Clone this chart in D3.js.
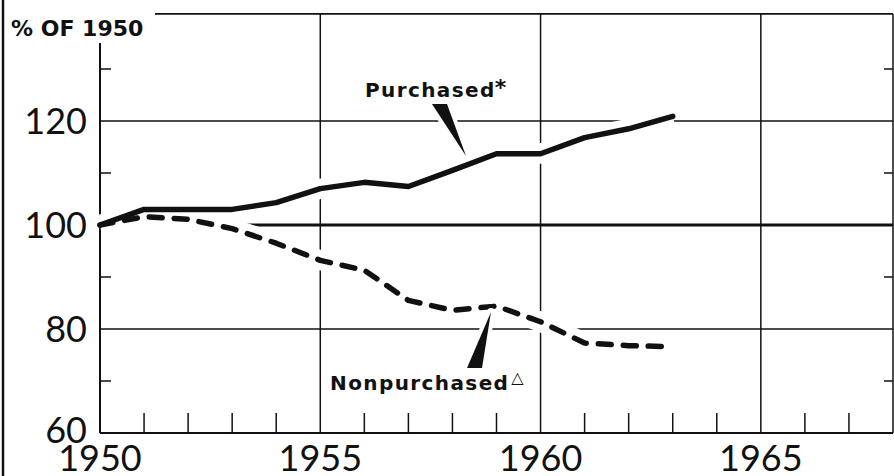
<!DOCTYPE html>
<html lang="en">
<head>
  <meta charset="UTF-8">
  <title>Purchased vs Nonpurchased, % of 1950</title>
  <script src="https://d3js.org/d3.v7.min.js"></script>
  <style>
    body { margin: 0; background: #fff; overflow: hidden; }
    svg { display: block; }
    text { font-family: "Lato", "DejaVu Sans", sans-serif; fill: #111; }
    .bold { font-family: "DejaVu Sans", sans-serif; font-weight: bold; }
  </style>
</head>
<body>
  <script>
    // Values (% of 1950)
    const years = [1950, 1951, 1952, 1953, 1954, 1955, 1956, 1957, 1958, 1959, 1960, 1961, 1962, 1963];
    const purchased = [100, 103, 103, 103, 104.3, 107, 108.2, 107.4, 110.5, 113.7, 113.7, 116.8, 118.5, 120.9];
    const nonpurchased = [100, 101.6, 101.1, 99.3, 96.5, 93.2, 91.3, 85.5, 83.6, 84.4, 81.4, 77.3, 76.8, 76.6];
    const yTicks = [60, 80, 100, 120];
    const yMinor = [70, 90, 110, 130];
    const xLabels = [1950, 1955, 1960, 1965];
    const xGrid = [1955, 1960, 1965];

    const width = 894, height = 476;
    const svg = d3.select("body").append("svg")
      .attr("width", width)
      .attr("height", height);

    const x = d3.scaleLinear().domain([1950, 1968]).range([100, 893]);
    const y = d3.scaleLinear().domain([60, 140]).range([433, 17]);
    const ink = "#111";

    // outer left border of the page
    svg.append("line")
      .attr("x1", 3).attr("x2", 3).attr("y1", 0).attr("y2", height)
      .attr("stroke", ink).attr("stroke-width", 2.5);

    // horizontal grid
    svg.selectAll(".hgrid")
      .data([80, 120])
      .enter().append("line")
      .attr("x1", x(1950)).attr("x2", x(1968))
      .attr("y1", d => y(d)).attr("y2", d => y(d))
      .attr("stroke", ink).attr("stroke-width", 1.5);

    svg.append("line")
      .attr("x1", x(1950)).attr("x2", x(1968))
      .attr("y1", y(100)).attr("y2", y(100))
      .attr("stroke", ink).attr("stroke-width", 3);

    // top frame line starts right of the unit label
    svg.append("line")
      .attr("x1", 155).attr("x2", x(1968))
      .attr("y1", y(140.6)).attr("y2", y(140.6))
      .attr("stroke", ink).attr("stroke-width", 1.8);

    // vertical grid
    svg.selectAll(".vgrid")
      .data(xGrid)
      .enter().append("line")
      .attr("x1", d => x(d)).attr("x2", d => x(d))
      .attr("y1", y(140.6)).attr("y2", y(60))
      .attr("stroke", ink).attr("stroke-width", 1.5);

    // left axis, right edge, bottom axis
    svg.append("line")
      .attr("x1", x(1950)).attr("x2", x(1950)).attr("y1", y(135)).attr("y2", y(60))
      .attr("stroke", ink).attr("stroke-width", 2);
    svg.append("line")
      .attr("x1", x(1968)).attr("x2", x(1968)).attr("y1", y(140.6)).attr("y2", y(60))
      .attr("stroke", ink).attr("stroke-width", 1.5);
    svg.append("line")
      .attr("x1", x(1950)).attr("x2", x(1968)).attr("y1", y(60)).attr("y2", y(60))
      .attr("stroke", ink).attr("stroke-width", 2);

    // minor ticks on both sides
    svg.selectAll(".ltick")
      .data(yMinor)
      .enter().append("line")
      .attr("x1", x(1950)).attr("x2", x(1950) + 11)
      .attr("y1", d => y(d)).attr("y2", d => y(d))
      .attr("stroke", ink).attr("stroke-width", 1.5);
    svg.selectAll(".rtick")
      .data(yMinor)
      .enter().append("line")
      .attr("x1", x(1968) - 9).attr("x2", x(1968))
      .attr("y1", d => y(d)).attr("y2", d => y(d))
      .attr("stroke", ink).attr("stroke-width", 1.5);

    // yearly ticks along the bottom
    const yearTicks = d3.range(1951, 1968).filter(d => !xGrid.includes(d));
    svg.selectAll(".xtick")
      .data(yearTicks)
      .enter().append("line")
      .attr("x1", d => x(d)).attr("x2", d => x(d))
      .attr("y1", y(60)).attr("y2", y(60) - 20)
      .attr("stroke", ink).attr("stroke-width", 1.5);

    // tick labels
    svg.selectAll(".ylab")
      .data(yTicks)
      .enter().append("text")
      .attr("x", 87)
      .attr("y", d => y(d) - (d === 60 ? 3 : 0))
      .attr("dy", "0.36em")
      .attr("text-anchor", "end")
      .style("font-size", "36px")
      .text(d => d);

    svg.selectAll(".xlab")
      .data(xLabels)
      .enter().append("text")
      .attr("x", d => x(d))
      .attr("y", 471)
      .attr("text-anchor", "middle")
      .style("font-size", "36px")
      .text(d => d);

    svg.append("text")
      .attr("class", "bold")
      .attr("x", 11).attr("y", 36)
      .style("font-size", "22px")
      .text("% OF 1950");

    // data lines, with a white halo under them
    const line = d3.line()
      .x((d, i) => x(years[i]))
      .y(d => y(d));

    [purchased, nonpurchased].forEach(s => {
      svg.append("path")
        .attr("d", line(s))
        .attr("fill", "none")
        .attr("stroke", "#fff")
        .attr("stroke-width", 20)
        .attr("stroke-linejoin", "round");
    });

    svg.append("path")
      .attr("d", line(purchased))
      .attr("fill", "none")
      .attr("stroke", ink)
      .attr("stroke-width", 5.5)
      .attr("stroke-linejoin", "round")
      .attr("stroke-linecap", "round");

    svg.append("path")
      .attr("d", line(nonpurchased))
      .attr("fill", "none")
      .attr("stroke", ink)
      .attr("stroke-width", 5.5)
      .attr("stroke-dasharray", "13,12")
      .attr("stroke-linejoin", "round")
      .attr("stroke-linecap", "round");

    // pointer wedges for the labels
    const wedges = [
      [[432, 104], [447, 104], [466, 156]],
      [[467, 368], [482, 368], [491, 312]]
    ];
    svg.selectAll(".wedge")
      .data(wedges)
      .enter().append("polygon")
      .attr("points", d => d.map(p => p.join(",")).join(" "))
      .attr("fill", ink)
      .attr("stroke", "#fff")
      .attr("stroke-width", 8)
      .attr("stroke-linejoin", "round")
      .attr("paint-order", "stroke");

    // series labels
    const lab1 = svg.append("text")
      .attr("class", "bold")
      .attr("x", 365).attr("y", 97)
      .style("font-size", "20px")
      .style("letter-spacing", "1.4px");
    lab1.append("tspan").text("Purchased");
    lab1.append("tspan")
      .attr("dx", -1).attr("dy", -2)
      .style("font-size", "22px")
      .text("*");

    const lab2 = svg.append("text")
      .attr("class", "bold")
      .attr("x", 330).attr("y", 390)
      .style("font-size", "20px")
      .style("letter-spacing", "1.4px");
    lab2.append("tspan").text("Nonpurchased");
    lab2.append("tspan")
      .attr("dx", 2).attr("dy", -7)
      .style("font-size", "16px")
      .text("\u25B3");
  </script>
</body>
</html>
